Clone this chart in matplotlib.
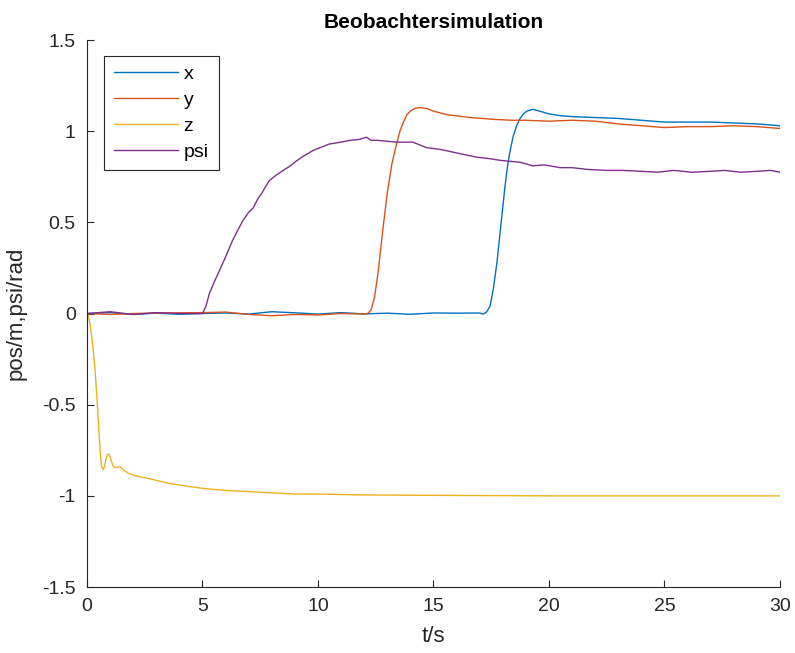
import matplotlib
matplotlib.use("Agg")
import matplotlib.pyplot as plt
from matplotlib.ticker import FormatStrFormatter

plt.rcParams['font.family'] = ['Liberation Sans', 'DejaVu Sans']
plt.rcParams['axes.unicode_minus'] = False

# x position (blue)
t_x = [0, 1, 2, 3, 4, 5, 6, 7, 8, 9, 10, 11, 12, 13, 14, 15, 16, 17, 17.15,
       17.3, 17.45, 17.6, 17.75, 17.9, 18.0, 18.1, 18.2, 18.3, 18.45, 18.6,
       18.75, 18.9, 19.05, 19.3, 19.6, 20.0, 20.5, 21, 22, 23, 24, 25, 26,
       27, 28, 29, 30]
v_x = [0, 0.005, -0.005, 0.002, -0.004, 0.0, 0.003, -0.003, 0.01, 0.004,
       -0.003, 0.005, -0.002, 0.002, -0.004, 0.003, 0.002, 0.003, -0.003,
       0.008, 0.04, 0.14, 0.28, 0.46, 0.58, 0.70, 0.80, 0.88, 0.97, 1.03,
       1.07, 1.095, 1.11, 1.12, 1.11, 1.095, 1.085, 1.08, 1.075, 1.07, 1.06,
       1.05, 1.05, 1.05, 1.045, 1.04, 1.03]

# y position (orange)
t_y = [0, 1, 2, 3, 4, 5, 6, 7, 8, 9, 10, 11, 12, 12.15, 12.3, 12.45, 12.6,
       12.8, 13.0, 13.2, 13.4, 13.55, 13.7, 13.85, 14.0, 14.2, 14.4, 14.7,
       15.0, 15.6, 16.6, 17.6, 18.4, 19.0, 20, 21, 22, 23, 24, 25, 26, 27,
       28, 29, 30]
v_y = [0, -0.005, 0.0, 0.003, 0.004, 0.005, 0.008, -0.005, -0.012, -0.005,
       -0.008, 0.0, -0.003, 0.0, 0.02, 0.09, 0.22, 0.45, 0.66, 0.82, 0.93,
       1.0, 1.05, 1.09, 1.11, 1.125, 1.13, 1.125, 1.11, 1.09, 1.075, 1.065,
       1.06, 1.06, 1.055, 1.06, 1.055, 1.04, 1.03, 1.02, 1.025, 1.025, 1.03,
       1.025, 1.015]

# z position (yellow)
t_z = [0, 0.05, 0.12, 0.2, 0.28, 0.35, 0.42, 0.48, 0.54, 0.59, 0.64, 0.7,
       0.76, 0.82, 0.88, 0.95, 1.01, 1.07, 1.13, 1.2, 1.3, 1.43, 1.6, 1.78,
       2.1, 2.5, 3.0, 3.5, 4.2, 5.1, 6, 7.5, 9, 10, 12, 15, 20, 25, 30]
v_z = [0, -0.01, -0.05, -0.12, -0.21, -0.31, -0.44, -0.57, -0.69, -0.79,
       -0.84, -0.855, -0.84, -0.80, -0.775, -0.77, -0.79, -0.815, -0.835,
       -0.845, -0.843, -0.84, -0.86, -0.875, -0.89, -0.90, -0.915, -0.93,
       -0.945, -0.96, -0.97, -0.98, -0.99, -0.99, -0.995, -0.997, -1.0, -1.0,
       -1.0]

# yaw angle psi (purple)
t_psi = [0, 1, 2, 3, 4, 5, 5.15, 5.3, 5.5, 5.75, 6.0, 6.3, 6.5, 6.75, 7.0,
         7.2, 7.4, 7.57, 7.75, 7.9, 8.2, 8.5, 8.8, 9.1, 9.4, 9.8, 10.1, 10.5,
         11.0, 11.4, 11.8, 12.1, 12.3, 12.55, 13.0, 13.4, 14.1, 14.7, 15.3,
         15.85, 16.4, 16.9, 17.4, 17.9, 18.3, 18.75, 19.3, 19.8, 20.5, 21,
         21.7, 22.5, 23.2, 24, 24.7, 25.4, 26.2, 27, 27.6, 28.3, 29, 29.6, 30]
v_psi = [0, 0.01, -0.005, 0.005, 0.0, 0.0, 0.04, 0.11, 0.17, 0.24, 0.31,
         0.40, 0.45, 0.51, 0.555, 0.58, 0.63, 0.66, 0.70, 0.73, 0.76, 0.785,
         0.81, 0.84, 0.865, 0.895, 0.91, 0.93, 0.94, 0.95, 0.955, 0.967, 0.95,
         0.95, 0.945, 0.94, 0.94, 0.91, 0.90, 0.885, 0.87, 0.857, 0.85, 0.84,
         0.835, 0.83, 0.81, 0.815, 0.80, 0.80, 0.79, 0.785, 0.785, 0.78,
         0.775, 0.785, 0.775, 0.78, 0.785, 0.775, 0.78, 0.785, 0.775]

x_ticks = [0, 5, 10, 15, 20, 25, 30]
y_ticks = [-1.5, -1, -0.5, 0, 0.5, 1, 1.5]

fig = plt.figure(figsize=(7.95, 6.53), dpi=100)
ax = fig.add_axes([0.1094, 0.101, 0.8716, 0.8377])

lw = 1.0
ax.plot(t_x, v_x, color='#0072BD', lw=lw, label='x')
ax.plot(t_y, v_y, color='#D95319', lw=lw, label='y')
ax.plot(t_z, v_z, color='#EDB120', lw=lw, label='z')
ax.plot(t_psi, v_psi, color='#7E2F8E', lw=lw, label='psi')

ax.set_xlim(0, 30)
ax.set_ylim(-1.5, 1.5)
ax.set_xticks(x_ticks)
ax.set_yticks(y_ticks)
ax.yaxis.set_major_formatter(FormatStrFormatter('%g'))
ax.tick_params(direction='in', length=5, labelsize=14, colors='#262626', pad=8)
for side in ['top', 'right']:
    ax.spines[side].set_visible(False)
for side in ['left', 'bottom']:
    ax.spines[side].set_color('#262626')
    ax.spines[side].set_linewidth(0.8)

ax.set_xlabel('t/s', fontsize=16, color='#262626', labelpad=8)
ax.set_ylabel('pos/m,psi/rad', fontsize=16, color='#262626', labelpad=11)
ax.set_title('Beobachtersimulation', fontsize=15, fontweight='bold', pad=9)

leg = ax.legend(loc='upper left', bbox_to_anchor=(0.0245, 0.971), fontsize=14,
                handlelength=3.3, handletextpad=0.3, borderpad=0.5,
                labelspacing=0.42, borderaxespad=0, fancybox=False,
                framealpha=1)
leg.get_frame().set_edgecolor('#262626')
leg.get_frame().set_linewidth(0.8)

fig.savefig('out.png', dpi=100)
